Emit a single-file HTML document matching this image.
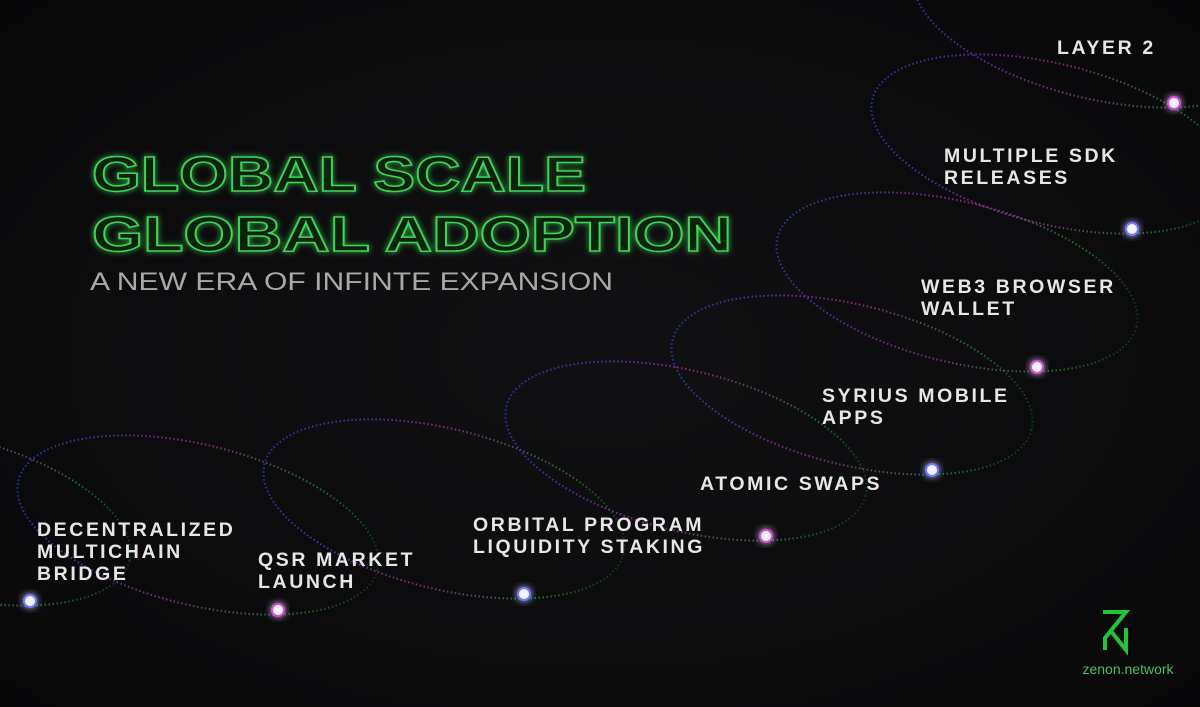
<!DOCTYPE html>
<html><head><meta charset="utf-8"><style>
html,body{margin:0;padding:0;background:#0b0b0c;}
svg{display:block;}
.lbl{font-family:"Liberation Sans",sans-serif;font-weight:bold;font-size:19.5px;fill:#e6e6e6;letter-spacing:2.6px;}
</style></head><body>
<svg id="chart" width="1200" height="707" viewBox="0 0 1200 707" xmlns="http://www.w3.org/2000/svg">
<defs>
<radialGradient id="bg" cx="0.5" cy="0.5" r="0.8"><stop offset="0" stop-color="#111113"/><stop offset="1" stop-color="#070708"/></radialGradient>
<linearGradient id="orb" x1="0" y1="0" x2="1" y2="0">
<stop offset="0" stop-color="#2a48d8"/><stop offset="0.45" stop-color="#c02ab8"/><stop offset="0.8" stop-color="#1c9a3c"/><stop offset="1" stop-color="#0f4a1c"/></linearGradient>
<filter id="glow" x="-50%" y="-50%" width="200%" height="200%"><feGaussianBlur stdDeviation="4" result="b"/><feMerge><feMergeNode in="b"/><feMergeNode in="SourceGraphic"/></feMerge></filter>
<filter id="tglow" x="-10%" y="-30%" width="120%" height="160%"><feGaussianBlur stdDeviation="3" result="b"/><feMerge><feMergeNode in="b"/><feMergeNode in="SourceGraphic"/></feMerge></filter>
</defs>
<rect width="1200" height="707" fill="url(#bg)"/>
<g filter="url(#tglow)">
<text x="92" y="191" textLength="494" lengthAdjust="spacingAndGlyphs" font-family="Liberation Sans,sans-serif" font-weight="bold" font-size="49" fill="#0b2410" stroke="#3fd455" stroke-width="1.5">GLOBAL SCALE</text>
<text x="92" y="251" textLength="640" lengthAdjust="spacingAndGlyphs" font-family="Liberation Sans,sans-serif" font-weight="bold" font-size="49" fill="#0b2410" stroke="#3fd455" stroke-width="1.5">GLOBAL ADOPTION</text>
</g>
<text x="90" y="290" textLength="523" lengthAdjust="spacingAndGlyphs" font-family="Liberation Sans,sans-serif" font-size="25" fill="#a8a8a8">A NEW ERA OF INFINTE EXPANSION</text>
<g id="orbits"></g>
<g id="dots"></g>
<g id="labels"></g>
<g>
<path d="M1103 612 H1126 L1105 638 V650 M1126 628 V650 L1110 630" fill="none" stroke="#22c43a" stroke-width="4"/>
<text x="1128" y="674" text-anchor="middle" font-family="Liberation Sans,sans-serif" font-size="14" fill="#4fbf60">zenon.network</text>
</g>
</svg>
<script>
const milestones = ["Decentralized Multichain Bridge","QSR Market Launch","Orbital Program Liquidity Staking","Atomic Swaps","Syrius Mobile Apps","Web3 Browser Wallet","Multiple SDK Releases","Layer 2"];
const labelLines = [["DECENTRALIZED","MULTICHAIN","BRIDGE"],["QSR MARKET","LAUNCH"],["ORBITAL PROGRAM","LIQUIDITY STAKING"],["ATOMIC SWAPS"],["SYRIUS MOBILE","APPS"],["WEB3 BROWSER","WALLET"],["MULTIPLE SDK","RELEASES"],["LAYER 2"]];
const dotX = [30,278,524,766,932,1037,1132,1174];
const dotY = [601,610,594,536,470,367,229,103];
const labelX = [37,258,473,700,822,921,944,1057];
const labelY = [536,566,531,490,402,293,162,54];
const NS="http://www.w3.org/2000/svg";
const orbits=document.getElementById('orbits'),dots=document.getElementById('dots'),labels=document.getElementById('labels');
for(let i=0;i<milestones.length;i++){
  const x=dotX[i],y=dotY[i];
  const cx=x-80,cy=y-85;
  const e=document.createElementNS(NS,'ellipse');
  
  
  e.setAttribute('cx',cx);e.setAttribute('cy',cy);
  e.setAttribute('rx',185);e.setAttribute('ry',80);
  e.setAttribute('transform','rotate(14 '+cx+' '+cy+')');
  e.setAttribute('fill','none');e.setAttribute('stroke','url(#orb)');
  e.setAttribute('stroke-width','2');e.setAttribute('stroke-dasharray','1.5 2.5');e.setAttribute('opacity','0.75');
  orbits.appendChild(e);
  const c=document.createElementNS(NS,'circle');
  
  
  c.setAttribute('cx',x);c.setAttribute('cy',y);c.setAttribute('r',6);
  c.setAttribute('fill','#f4f2ff');c.setAttribute('stroke',i%2?'#d64fd6':'#6d7cff');c.setAttribute('stroke-width','2');
  c.setAttribute('filter','url(#glow)');
  dots.appendChild(c);
  const t=document.createElementNS(NS,'text');
  
  
  t.setAttribute('class','lbl');
  labelLines[i].forEach((ln,j)=>{
    const s=document.createElementNS(NS,'tspan');
    s.setAttribute('x',labelX[i]);s.setAttribute('y',labelY[i]+j*22);
    s.textContent=ln;t.appendChild(s);
  });
  labels.appendChild(t);
}
</script>
</body></html>
